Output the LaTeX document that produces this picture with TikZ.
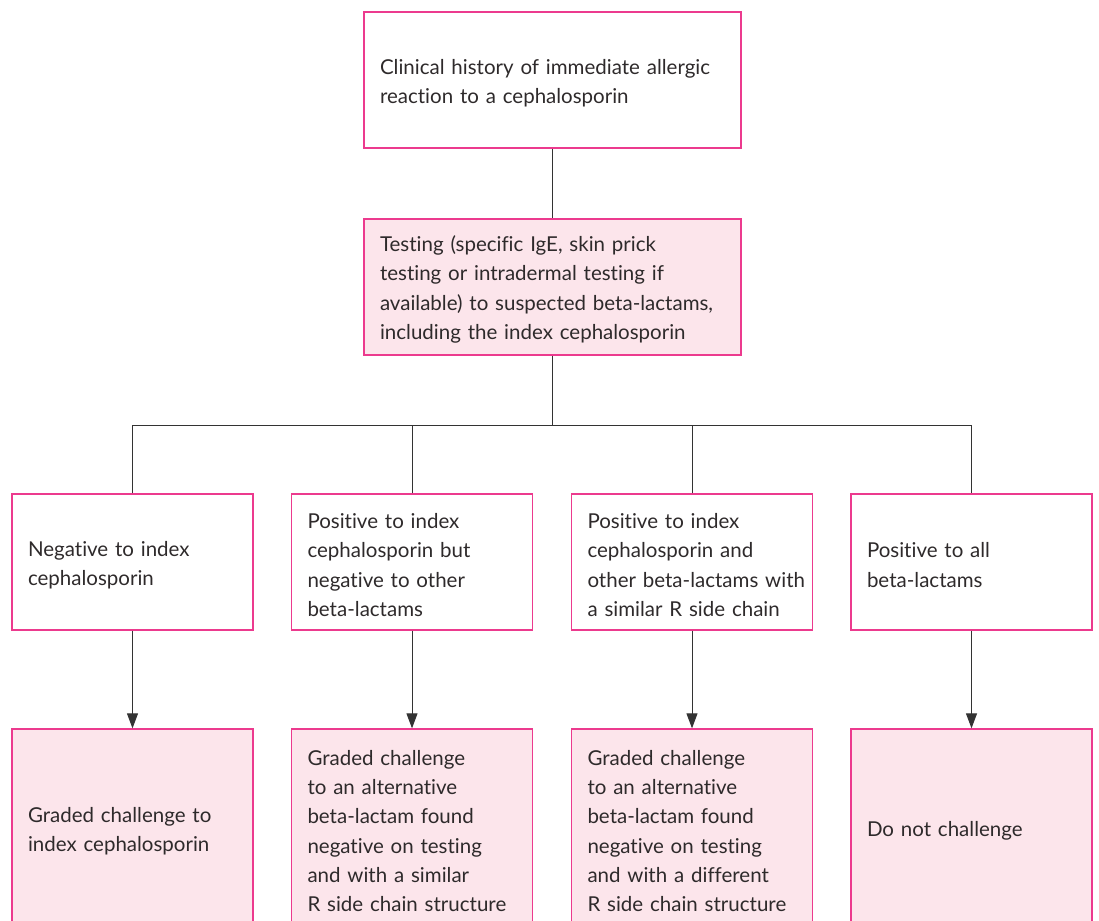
\documentclass[tikz,border=0pt]{standalone}
\usepackage{fontspec}
\setmainfont{Lato}[Ligatures={NoCommon}]
\usetikzlibrary{arrows.meta}
\definecolor{pinkline}{HTML}{EC3A8E}
\definecolor{pinkfill}{HTML}{FCE5EB}
\definecolor{txt}{HTML}{2E2A2B}
\definecolor{conn}{HTML}{333333}
\tikzset{
  box/.style={draw=pinkline, line width=1.3pt, text=txt, align=left,
    inner xsep=16pt, inner ysep=0pt, font=\fontsize{20.5}{29.3}\selectfont,
    minimum height=136pt, execute at begin node={\rule{0pt}{21pt}}},
  wide/.style={box, text width=345pt},
  narrow/.style={box, text width=209pt},
  tall/.style={minimum height=198pt},
  filled/.style={fill=pinkfill},
  conline/.style={draw=conn, line width=1pt},
  arr/.style={conline, -{Triangle[width=11pt,length=15pt]}}
}
\begin{document}
\begin{tikzpicture}[x=1pt,y=-1pt]
\useasboundingbox (0,0) rectangle (1099,920);
\clip (0,0) rectangle (1099,920);
\node[wide] (top) at (552.5,80) {Clinical history of immediate allergic\\reaction to a cephalosporin};
\node[wide,filled] (test) at (552.5,287) {Testing (specific IgE, skin prick\\testing or intradermal testing if\\available) to suspected beta-lactams,\\including the index cephalosporin};
\node[narrow] (r1) at (132.5,562) {Negative to index\\cephalosporin};
\node[narrow] (r2) at (412,562) {Positive to index\\cephalosporin but\\negative to other\\beta-lactams};
\node[narrow] (r3) at (692,562) {Positive to index\\cephalosporin and\\\mbox{other beta-lactams with}\\a similar R side chain};
\node[narrow] (r4) at (971.5,562) {Positive to all\\beta-lactams};
\node[narrow,filled,tall] (b1) at (132.5,828) {Graded challenge to\\index cephalosporin};
\node[narrow,filled,tall] (b2) at (412,828) {Graded challenge\\to an alternative\\beta-lactam found\\negative on testing\\and with a similar\\\mbox{R side chain structure}};
\node[narrow,filled,tall] (b3) at (692,828) {Graded challenge\\to an alternative\\beta-lactam found\\negative on testing\\and with a different\\\mbox{R side chain structure}};
\node[narrow,filled,tall] (b4) at (971.5,828) {Do not challenge};
\coordinate (hub) at (552.5,425);
\draw[conline] (top.south) -- (test.north);
\draw[conline] (test.south) -- (hub);
\draw[conline] (r1.north) -- (r1.north |- hub) -- (r4.north |- hub) -- (r4.north);
\draw[conline] (r2.north) -- (r2.north |- hub);
\draw[conline] (r3.north) -- (r3.north |- hub);
\draw[arr] (r1.south) -- (b1.north);
\draw[arr] (r2.south) -- (b2.north);
\draw[arr] (r3.south) -- (b3.north);
\draw[arr] (r4.south) -- (b4.north);
\end{tikzpicture}
\end{document}
